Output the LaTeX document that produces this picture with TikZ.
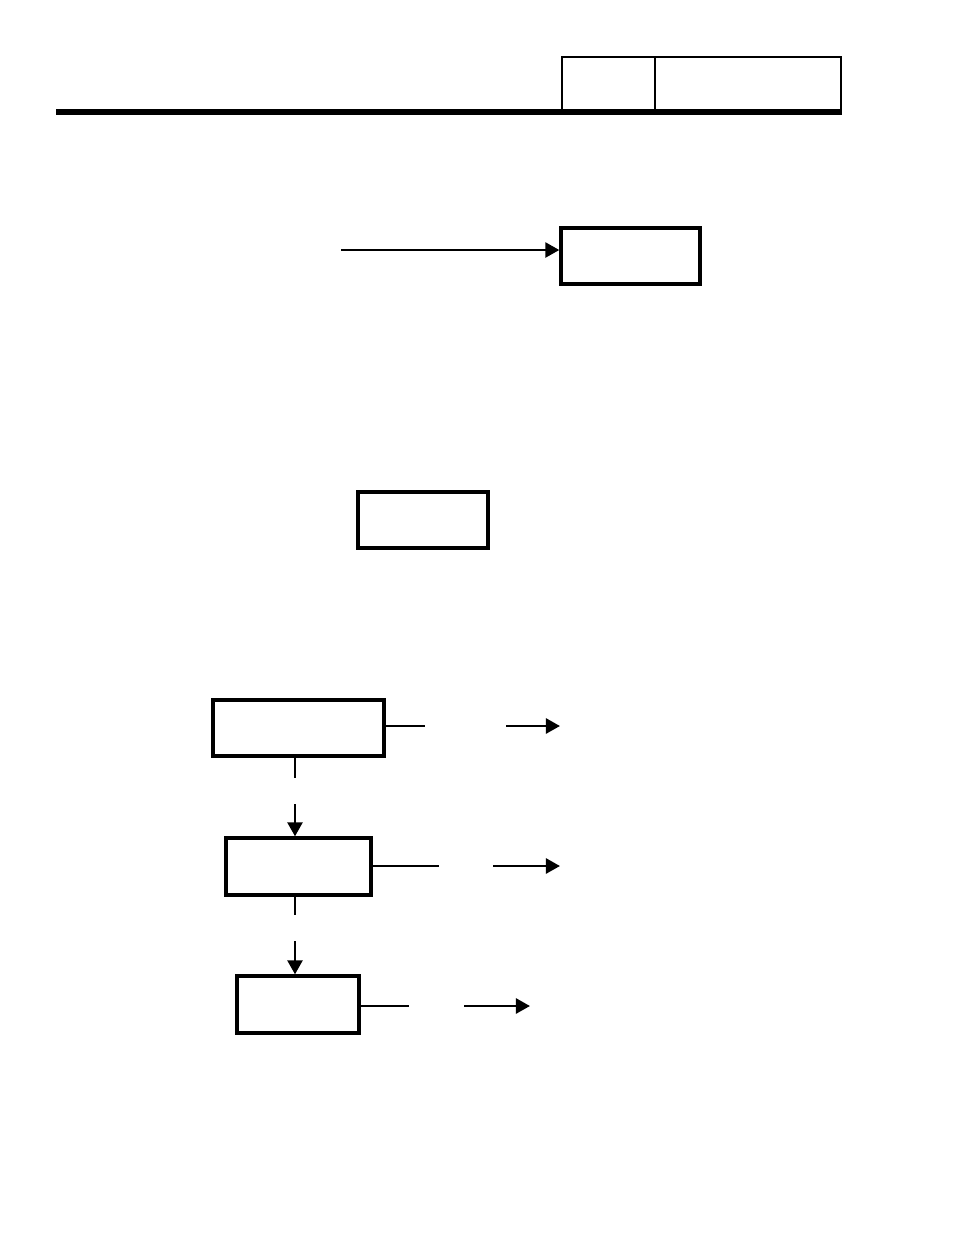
\documentclass[tikz,border=0pt]{standalone}
\usetikzlibrary{arrows.meta,positioning}
\tikzset{
  blk/.style={draw,line width=1.9pt,rectangle,inner sep=0pt,minimum height=1.12cm},
  lnk/.style={line width=1.6pt},
  arr/.style={line width=1.6pt,-{Triangle[length=8pt,width=8.5pt]}}
}
\begin{document}
\begin{tikzpicture}[x=0.02cm,y=-0.02cm]
\useasboundingbox (0,0) rectangle (954,1235);
% header
\draw[line width=1.3pt] (562,112) -- (562,57) -- (841,57) -- (841,112);
\draw[line width=1.3pt] (655,57) -- (655,112);
\draw[line width=3.2pt] (56,112) -- (842,112);
% boxes
\node[blk,minimum width=2.78cm] (top) at (630.5,256) {};
\node[blk,minimum width=2.6cm] (mid) at (423,520) {};
\node[blk,minimum width=3.42cm] (s1) at (298.5,728) {};
\node[blk,minimum width=2.9cm,minimum height=1.14cm] (s2) at (298.5,866.5) {};
\node[blk,minimum width=2.44cm,minimum height=1.14cm] (s3) at (298,1004.5) {};
% free ends
\coordinate (in) at (341,250);
\coordinate (e1) at (425,726);
\coordinate (f1) at (506,726);
\coordinate (g1) at (560,726);
\coordinate (e2) at (439,866);
\coordinate (f2) at (493,866);
\coordinate (g2) at (560,866);
\coordinate (e3) at (409,1006);
\coordinate (f3) at (464,1006);
\coordinate (g3) at (530,1006);
\coordinate (d1) at (295,778);
\coordinate (u1) at (295,804);
\coordinate (d2) at (295,915);
\coordinate (u2) at (295,941);
% connectors
\draw[arr] (in) -- (in -| top.west);
\draw[lnk] (s1.east |- e1) -- (e1);
\draw[arr] (f1) -- (g1);
\draw[lnk] (s2.east |- e2) -- (e2);
\draw[arr] (f2) -- (g2);
\draw[lnk] (s3.east |- e3) -- (e3);
\draw[arr] (f3) -- (g3);
\draw[lnk] (d1 |- s1.south) -- (d1);
\draw[arr] (u1) -- (u1 |- s2.north);
\draw[lnk] (d2 |- s2.south) -- (d2);
\draw[arr] (u2) -- (u2 |- s3.north);
\end{tikzpicture}
\end{document}
